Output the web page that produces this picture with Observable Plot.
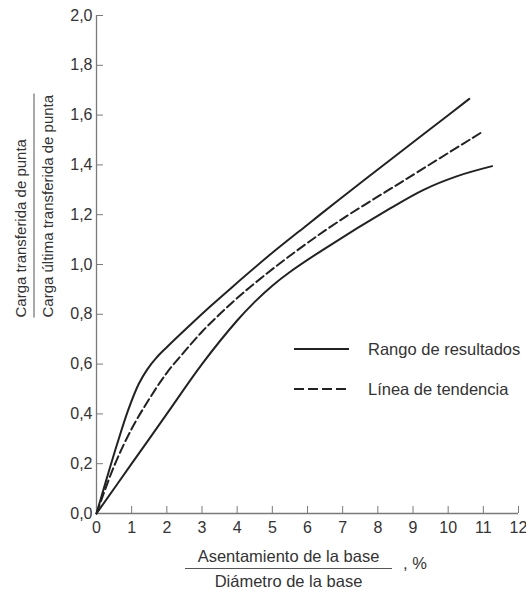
<!DOCTYPE html>
<html>
<head>
<meta charset="utf-8">
<script src="https://cdn.jsdelivr.net/npm/d3@7"></script>
<script src="https://cdn.jsdelivr.net/npm/@observablehq/plot@0.6"></script>
<style>
  body { margin: 0; background: #fff; font-family: "Liberation Sans", Arial, sans-serif; color: #333; }
  #wrap { position: relative; width: 526px; height: 589px; overflow: hidden; }
  .frac { position: absolute; text-align: left; white-space: nowrap; }
  .frac .num { line-height: 18px; padding-bottom: 4px; border-bottom: 1px solid #555; }
  .frac .den { line-height: 18px; padding-top: 4px; }
  #ylab { left: -78.5px; top: 182.5px; width: 224px; font-size: 15px; transform: rotate(-90deg); transform-origin: 50% 50%; }
  #xlab { left: 185px; top: 547px; width: 207px; font-size: 16.5px; text-align: center; }
  #xlab .num { padding-bottom: 3px; }
  #xlab .den { padding-top: 3px; }
  #pct { position: absolute; left: 403px; top: 554px; font-size: 16.5px; line-height: 18px; }
  .leg { position: absolute; left: 293px; font-size: 16.5px; line-height: 18px; display: flex; align-items: center; }
  .leg svg { margin-right: 18px; }
</style>
</head>
<body>
<div id="wrap"></div>
<script>
// ---- data ----
const upperX = [0, 0.3, 0.6, 0.9, 1.2, 1.45, 1.7, 2.0, 2.67, 3.24, 3.88, 4.94, 6.0, 6.85, 8.35, 9.5, 10.6];
const upperY = [0, 0.145, 0.285, 0.415, 0.52, 0.58, 0.625, 0.668, 0.758, 0.832, 0.912, 1.04, 1.16, 1.255, 1.42, 1.545, 1.665];

const trendX = [0, 0.5, 1.0, 1.5, 2.0, 2.5, 3.0, 3.5, 4.0, 4.5, 5.5, 6.85, 8.83, 10.94];
const trendY = [0, 0.19, 0.34, 0.46, 0.565, 0.65, 0.73, 0.80, 0.865, 0.925, 1.035, 1.17, 1.345, 1.53];

const lowerX = [0, 1.0, 2.0, 3.0, 4.0, 4.5, 5.0, 5.5, 6.45, 8.35, 9.3, 10.26, 11.25];
const lowerY = [0, 0.2, 0.40, 0.60, 0.775, 0.85, 0.915, 0.97, 1.06, 1.225, 1.30, 1.355, 1.395];

const xTicks = [0, 1, 2, 3, 4, 5, 6, 7, 8, 9, 10, 11, 12];
const yTicks = [0, 0.2, 0.4, 0.6, 0.8, 1.0, 1.2, 1.4, 1.6, 1.8, 2.0];

const legendLabels = ["Rango de resultados", "Línea de tendencia"];
const yLabelTop = "Carga transferida de punta";
const yLabelBottom = "Carga última transferida de punta";
const xLabelTop = "Asentamiento de la base";
const xLabelBottom = "Diámetro de la base";
const xLabelUnit = ", %";

// ---- build tables ----
const toRows = (xs, ys) => xs.map((x, i) => ({x, y: ys[i]}));
const upper = toRows(upperX, upperY);
const trend = toRows(trendX, trendY);
const lower = toRows(lowerX, lowerY);

const axisGray = "#7a7a7a";
const ink = "#222";

const chart = Plot.plot({
  width: 526,
  height: 589,
  marginTop: 15,
  marginLeft: 96,
  marginRight: 8,
  marginBottom: 76,
  style: { fontFamily: '"Liberation Sans", Arial, sans-serif', fontSize: "16px", color: "#333", background: "#fff", overflow: "visible" },
  x: { domain: [0, 12] },
  y: { domain: [0, 2] },
  marks: [
    Plot.axisX({ ticks: xTicks, tickSize: -7, tickPadding: 15, stroke: axisGray, fill: "#333", tickFormat: d => String(d), label: null, fontSize: 16 }),
    Plot.axisY({ ticks: yTicks, tickSize: -7, tickPadding: 11, stroke: axisGray, fill: "#333", tickFormat: d => d.toFixed(1).replace(".", ","), label: null, fontSize: 16 }),
    Plot.ruleX([0], { stroke: axisGray, strokeWidth: 1.3 }),
    Plot.ruleY([0], { stroke: axisGray, strokeWidth: 1.3 }),
    Plot.line(upper, { x: "x", y: "y", curve: "catmull-rom", stroke: ink, strokeWidth: 2 }),
    Plot.line(lower, { x: "x", y: "y", curve: "catmull-rom", stroke: ink, strokeWidth: 2 }),
    Plot.line(trend, { x: "x", y: "y", curve: "catmull-rom", stroke: ink, strokeWidth: 2, strokeDasharray: "9,4" })
  ]
});

const wrap = document.getElementById("wrap");
wrap.appendChild(chart);

// y label (fraction)
const ylab = document.createElement("div");
ylab.className = "frac"; ylab.id = "ylab";
ylab.innerHTML = `<div class="num">${yLabelTop}</div><div class="den">${yLabelBottom}</div>`;
wrap.appendChild(ylab);

// x label (fraction)
const xlab = document.createElement("div");
xlab.className = "frac"; xlab.id = "xlab";
xlab.innerHTML = `<div class="num">${xLabelTop}</div><div class="den">${xLabelBottom}</div>`;
wrap.appendChild(xlab);
const pct = document.createElement("div");
pct.id = "pct"; pct.textContent = xLabelUnit;
wrap.appendChild(pct);

// legend
const legDash = [null, "10,4"];
const legTop = [340, 380];
legendLabels.forEach((lab, i) => {
  const d = document.createElement("div");
  d.className = "leg";
  d.style.top = legTop[i] + "px";
  d.innerHTML = `<svg width="57" height="18"><line x1="1" x2="56" y1="9" y2="9" stroke="${ink}" stroke-width="2" ${legDash[i] ? `stroke-dasharray="${legDash[i]}"` : ""}/></svg><span>${lab}</span>`;
  wrap.appendChild(d);
});
</script>
</body>
</html>
